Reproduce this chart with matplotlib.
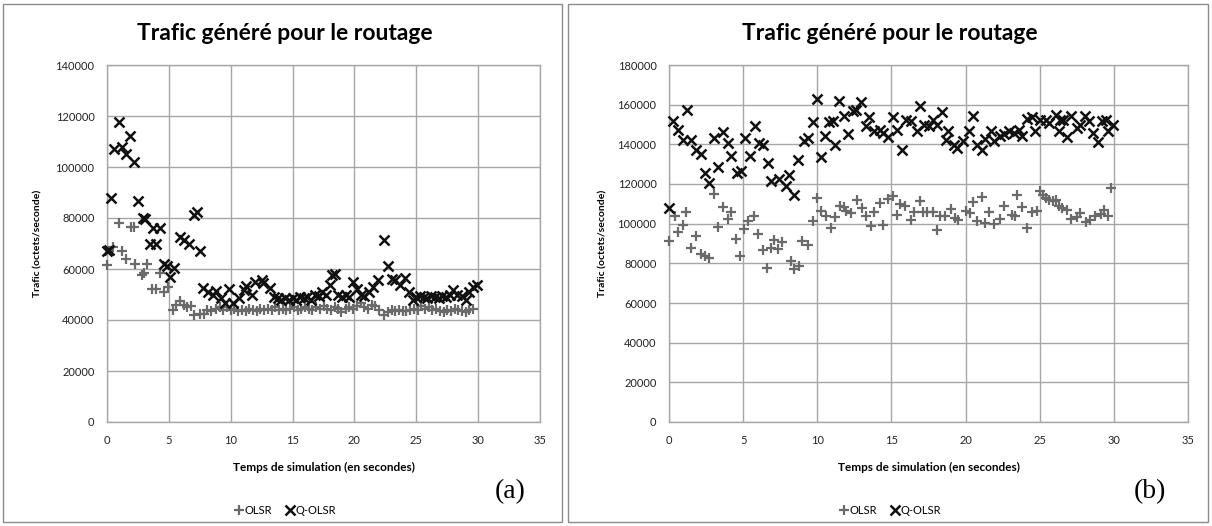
import numpy as np
import matplotlib
matplotlib.use("Agg")
import matplotlib.pyplot as plt
from matplotlib.patches import Rectangle
from matplotlib.lines import Line2D

plt.rcParams['font.family'] = ['Lato', 'DejaVu Sans']

# (a) temps (s) et trafic (milliers d'octets/s)
a_olsr_t = [0.0, 0.5, 0.94, 1.2, 1.5, 1.9, 2.2, 2.3, 2.8, 3.0, 3.2, 3.6, 4.0, 4.3, 4.6, 4.97,
            5.3, 5.6, 5.9, 6.2, 6.5, 6.8, 7.0, 7.5, 7.85, 8.1, 8.4, 8.8, 9.1, 9.4, 9.7, 10.0,
            10.3, 10.6, 10.9, 11.2, 11.5, 11.8, 12.1, 12.4, 12.7, 13.0, 13.3, 13.6, 13.9, 14.2,
            14.5, 14.8, 15.1, 15.4, 15.7, 16.0, 16.3, 16.6, 16.9, 17.2, 17.5, 17.8, 18.1, 18.4,
            18.7, 18.9, 19.3, 19.6, 19.9, 20.2, 20.5, 20.8, 21.1, 21.4, 21.7, 22.0, 22.4, 22.7,
            23.0, 23.3, 23.6, 23.9, 24.2, 24.5, 24.8, 25.1, 25.4, 25.7, 26.0, 26.3, 26.6, 26.9,
            27.2, 27.5, 27.8, 28.1, 28.4, 28.7, 29.0, 29.3, 29.6]
a_olsr_v = [61.5, 68.5, 78, 67, 64, 76.5, 76.5, 62, 57.6, 58.5, 62, 52, 52, 58.5, 51, 53,
            44, 46, 47.5, 46, 45, 45.5, 42, 42.5, 42.2, 44, 43.5, 44.5, 45, 44, 45, 44,
            44.5, 43.5, 44, 43.5, 44.5, 44, 43.5, 44.5, 44, 44.5, 44, 45, 44, 44.5,
            44, 44.5, 45, 44, 44.5, 45, 44.5, 44, 45, 44.5, 45.5, 44.5, 44, 45,
            44.5, 43, 44.5, 45, 44.5, 45.5, 46.5, 45, 44.5, 46, 45.5, 44, 42, 43,
            44, 43.5, 44, 43.5, 43.5, 44, 44.5, 44, 45.5, 44.5, 45, 44, 44.5, 43.5,
            43, 44, 43.5, 44.5, 44, 43.5, 43, 44, 44.5]
a_qolsr_t = [0.0, 0.2, 0.35, 0.6, 0.94, 1.2, 1.55, 1.88, 2.15, 2.47, 2.9, 3.1, 3.5, 3.7, 4.0,
             4.25, 4.57, 4.85, 5.1, 5.4, 5.9, 6.2, 6.6, 7.0, 7.25, 7.5, 7.8, 8.2, 8.6, 8.8,
             9.2, 9.5, 9.9, 10.2, 10.7, 11.05, 11.2, 11.7, 12.0, 12.5, 12.6, 13.2, 13.5, 13.8,
             14.1, 14.4, 14.7, 15.0, 15.3, 15.6, 15.9, 16.2, 16.5, 16.8, 17.1, 17.4, 17.7,
             18.0, 18.2, 18.4, 18.7, 19.0, 19.3, 19.6, 19.9, 20.2, 20.5, 20.8, 21.2, 21.5,
             21.9, 22.4, 22.7, 23.0, 23.3, 23.7, 24.1, 24.4, 24.7, 25.0, 25.3, 25.6, 25.9,
             26.2, 26.5, 26.8, 27.1, 27.4, 27.7, 28.0, 28.3, 28.7, 29.0, 29.3, 29.6, 29.9]
a_qolsr_v = [67, 67.5, 88, 107, 117.5, 108, 105, 112, 102, 86.5, 80, 79.5, 70, 76, 70,
             76, 62, 61, 57, 60.5, 72.5, 71.5, 70, 81, 82.5, 67, 52.5, 51, 50, 51.5,
             48.5, 46.5, 52, 46.5, 48.5, 51.7, 53.5, 50, 55, 55.5, 54.5, 52.4, 49, 48.5,
             48, 48.5, 48, 48.5, 48, 49, 48.5, 49, 48, 50, 49.5, 51, 50,
             53.7, 57.8, 58, 50, 49, 50, 49, 55, 52, 50, 49.5, 51, 53,
             55.7, 71.4, 61, 56, 55.5, 53.7, 56.3, 51.1, 47.8, 49, 49.5, 49, 48.5,
             49.5, 49, 48.5, 49.5, 49, 50, 51.8, 50, 49.5, 47.8, 51, 53, 53.7]

# (b)
b_olsr_t = [0.0, 0.38, 0.6, 0.94, 1.17, 1.5, 1.84, 2.13, 2.4, 2.73, 3.03, 3.3, 3.64, 3.97,
            4.2, 4.5, 4.8, 5.08, 5.35, 5.7, 6.03, 6.33, 6.62, 6.85, 7.1, 7.35, 7.6, 8.2, 8.45,
            8.75, 9.0, 9.36, 9.7, 10.0, 10.27, 10.6, 10.95, 11.2, 11.5, 11.8, 11.95, 12.3,
            12.7, 13.0, 13.3, 13.6, 13.85, 14.2, 14.4, 14.75, 15.1, 15.4, 15.6, 15.9, 16.3,
            16.5, 16.9, 17.1, 17.4, 17.8, 18.1, 18.3, 18.6, 19.0, 19.3, 19.5, 20.0, 20.3,
            20.5, 20.8, 21.1, 21.3, 21.6, 21.9, 22.3, 22.6, 23.1, 23.3, 23.5, 23.8, 24.15,
            24.5, 24.8, 25.0, 25.2, 25.45, 25.6, 25.9, 26.1, 26.3, 26.5, 26.85, 27.1, 27.5,
            27.75, 28.15, 28.4, 28.75, 29.1, 29.35, 29.6, 29.8]
b_olsr_v = [91.1, 104.1, 95.7, 99.5, 105.9, 87.8, 93.7, 84.9, 83.6, 82.8, 115.2, 98.4, 108.5, 102.4,
            105.9, 92.5, 83.6, 97.4, 101.2, 104.1, 95, 86.6, 77.7, 87.8, 92, 87, 90.6, 81, 77.2,
            78.9, 91.1, 89.1, 101.2, 113, 106.2, 104.1, 97.6, 103.4, 108.8, 108.5, 106.2, 105.4,
            112.1, 108, 104.1, 98.7, 105.9, 110.5, 99.5, 112.5, 114.2, 104.6, 110.1, 108.8, 102.1,
            105.8, 111.3, 105.9, 105.9, 105.9, 96.7, 104, 104, 107.5, 102.7, 101.7, 106.2, 105.4,
            110.8, 101.2, 113.5, 100.3, 106, 99.7, 102.4, 108.8, 104.6, 103.7, 114.7, 108.5, 97.9,
            105.9, 106.2, 116.3, 114.7, 113, 111.8, 111.3, 111.8, 109.1, 108, 106.8, 102.4, 103.4,
            105.4, 100.7, 102.1, 103.7, 105.1, 106.8, 104.1, 118]
b_qolsr_t = [0.0, 0.27, 0.6, 0.94, 1.23, 1.5, 1.84, 2.13, 2.4, 2.73, 3.03, 3.3, 3.64, 3.97,
             4.2, 4.6, 4.87, 5.14, 5.43, 5.77, 6.1, 6.34, 6.67, 6.9, 7.45, 7.9, 8.1, 8.45, 8.7,
             9.13, 9.36, 9.7, 9.98, 10.27, 10.5, 10.8, 11.04, 11.2, 11.45, 11.8, 12.1, 12.4,
             12.6, 12.95, 13.3, 13.5, 13.85, 14.2, 14.4, 14.75, 15.1, 15.4, 15.7, 15.97, 16.3,
             16.7, 16.9, 17.2, 17.5, 17.8, 18.1, 18.4, 18.7, 18.8, 19.2, 19.4, 19.85, 20.2,
             20.5, 20.8, 21.1, 21.3, 21.7, 21.9, 22.3, 22.6, 22.9, 23.25, 23.6, 23.8, 24.15,
             24.5, 24.7, 25.0, 25.4, 25.6, 26.1, 26.3, 26.4, 26.6, 26.85, 27.1, 27.5, 27.7,
             28.05, 28.3, 28.6, 28.95, 29.2, 29.5, 29.6, 29.95]
b_qolsr_v = [108, 151.6, 147.4, 142.4, 157.1, 142.4, 137.3, 135.3, 125.6, 120.5, 143.2, 128.6, 146.1, 140.7,
             134, 125.6, 126.4, 143.2, 134, 149.1, 140.7, 139.9, 130.6, 121.4, 122.6, 118.8, 124.7, 114.7, 132.3,
             141.5, 143.2, 151.1, 162.9, 133.6, 144, 151.1, 151.6, 139.9, 161.7, 154.1, 145.4, 156.6,
             157.5, 161.2, 149.1, 153.8, 146.6, 147.4, 145.8, 143.7, 153.8, 147.4, 137, 152.5, 151.6,
             146.6, 159.2, 150, 149.1, 152.5, 150, 156.2, 142.4, 146.6, 139.9, 138.2, 141.5, 146.6,
             154.1, 139.9, 137.3, 142.5, 146.6, 141.5, 144, 145, 146.6, 145.8, 147.4, 144.4, 152.8,
             153.8, 146.6, 152.5, 152.5, 150.8, 155, 146.6, 152.5, 152.5, 143.7, 154.5, 148.3, 150,
             154.1, 151.6, 145.8, 141, 151.6, 152.5, 146.6, 150]

title = "Trafic généré pour le routage"
xlab = "Temps de simulation (en secondes)"
ylab = "Trafic (octets/seconde)"
grid_c = '#a6a6a6'
olsr_c = '#6a6a6a'
q_c = '#111111'

fig = plt.figure(figsize=(12.12, 5.26), dpi=100)
W, H = 1212.0, 526.0

# cadres des deux graphiques
for x0, x1 in [(3, 562), (568, 1208)]:
    fig.patches.append(Rectangle((x0 / W, 1 - 522 / H), (x1 - x0) / W, 518 / H,
                                 transform=fig.transFigure, fill=False,
                                 edgecolor='#8c8c8c', linewidth=1.0))

panels = [
    dict(px=(107, 540), yt=np.arange(0, 140001, 20000), data=(a_olsr_t, a_olsr_v, a_qolsr_t, a_qolsr_v),
         cx=285, ylx=38, tag="(a)", tagx=510),
    dict(px=(669, 1188), yt=np.arange(0, 180001, 20000), data=(b_olsr_t, b_olsr_v, b_qolsr_t, b_qolsr_v),
         cx=890, ylx=603, tag="(b)", tagx=1150),
]

for p in panels:
    l, r = p['px']
    ax = fig.add_axes([l / W, 1 - 422 / H, (r - l) / W, 357 / H])
    ot, ov, qt, qv = p['data']
    ax.plot(ot, np.array(ov) * 1000, linestyle='none', marker='+', ms=7.5, mew=1.6,
            color=olsr_c, zorder=3, clip_on=False)
    ax.plot(qt, np.array(qv) * 1000, linestyle='none', marker='x', ms=7, mew=1.8,
            color=q_c, zorder=4, clip_on=False)
    ax.set_xlim(0, 35)
    ax.set_ylim(0, p['yt'][-1])
    ax.set_xticks(np.arange(0, 36, 5))
    ax.set_yticks(p['yt'])
    ax.grid(True, color=grid_c, linewidth=1.0)
    ax.set_axisbelow(True)
    for s in ax.spines.values():
        s.set_color(grid_c)
        s.set_linewidth(1.0)
    ax.tick_params(length=0, labelsize=8, colors='#222222', pad=9)
    ax.set_xlabel(xlab, fontsize=8.5, fontweight='bold', labelpad=12)

    fig.text(p['ylx'] / W, 1 - 243 / H, ylab, rotation=90, ha='center', va='center',
             fontsize=7.5, fontweight='bold')
    fig.text(p['cx'] / W, 1 - 33 / H, title, ha='center', va='center',
             fontsize=16.5, fontweight='bold')
    fig.text(p['tagx'] / W, 1 - 492 / H, p['tag'], ha='center', va='center',
             fontsize=20, family='Liberation Serif')

    handles = [Line2D([], [], linestyle='none', marker='+', ms=7, mew=1.6, color=olsr_c),
               Line2D([], [], linestyle='none', marker='x', ms=6.5, mew=1.8, color=q_c)]
    fig.legend(handles, ['OLSR', 'Q-OLSR'], loc='center', ncol=2,
               bbox_to_anchor=(p['cx'] / W, 1 - 510 / H), frameon=False,
               fontsize=8, handlelength=0.8, handletextpad=0.1, columnspacing=1.2)

fig.savefig('out.png', dpi=100)
